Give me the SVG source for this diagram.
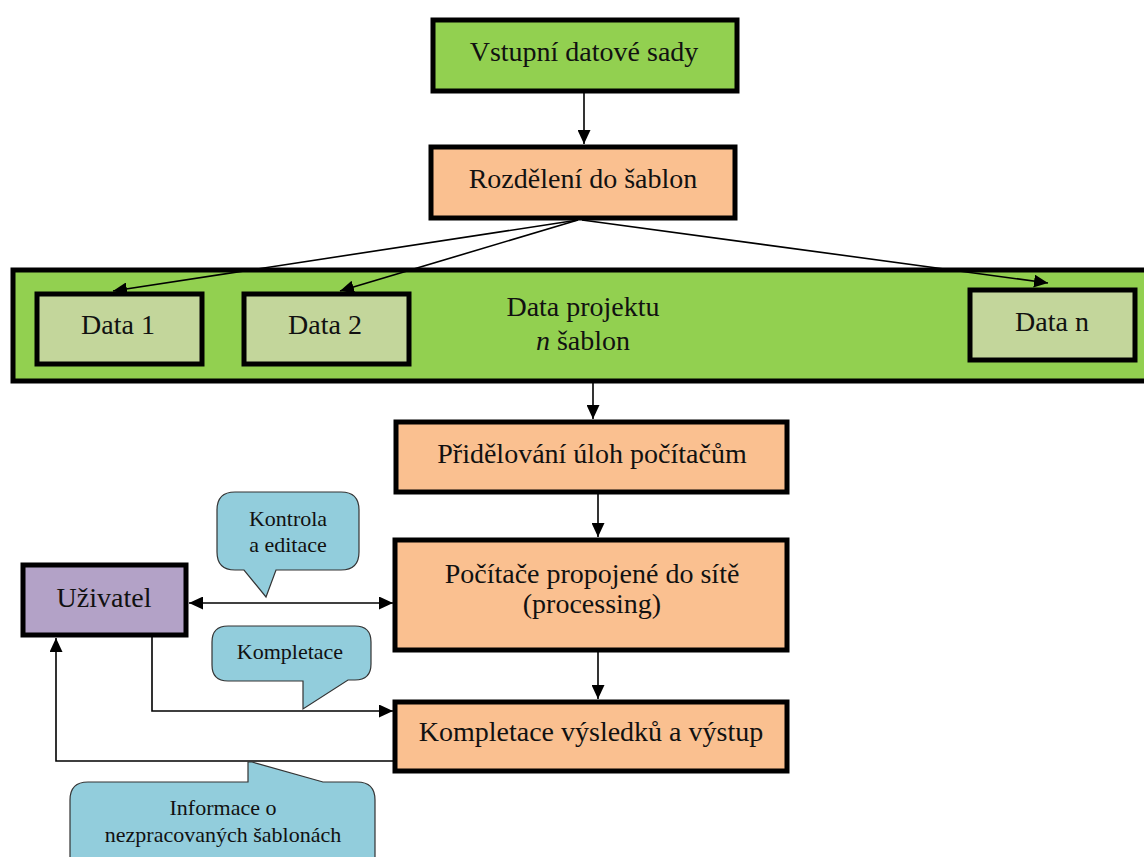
<svg xmlns="http://www.w3.org/2000/svg" width="1144" height="857" viewBox="0 0 1144 857">
<style>
.t{font-family:"Liberation Serif","Times New Roman",serif;font-size:28px;fill:#111;text-anchor:middle}
.s{font-family:"Liberation Serif","Times New Roman",serif;font-size:22px;fill:#111;text-anchor:middle}
.box{stroke:#000;stroke-width:5}
.green{fill:#92D050}
.orange{fill:#FAC090}
.lgreen{fill:#C3D69B}
.purple{fill:#B3A2C7}
.call{fill:#92CDDC;stroke:#333;stroke-width:1.2}
.ln{fill:none;stroke:#000;stroke-width:1.6}
</style>
<defs>
<marker id="ah" viewBox="0 0 14 13" refX="14" refY="6.5" markerWidth="14" markerHeight="13" orient="auto-start-reverse" markerUnits="userSpaceOnUse">
<path d="M0,0 L14,6.5 L0,13 z" fill="#000"/>
</marker>
</defs>

<g id="n-vstup">
<rect class="box green" x="433" y="20" width="304" height="71"/>
<text class="t" x="584" y="61">Vstupní datové sady</text>
</g>
<g id="n-rozdeleni">
<rect class="box orange" x="431" y="147" width="304" height="71"/>
<text class="t" x="583" y="188">Rozdělení do šablon</text>
</g>
<g id="n-projekt">
<rect class="box green" x="13" y="270" width="1140" height="111"/>
<text class="t" x="583" y="316">Data projektu</text>
<text class="t" x="583" y="350"><tspan font-style="italic">n</tspan> šablon</text>
</g>
<g id="n-data1">
<rect class="box lgreen" x="37" y="294" width="165" height="70"/>
<text class="t" x="118" y="334">Data 1</text>
</g>
<g id="n-data2">
<rect class="box lgreen" x="244" y="294" width="165" height="70"/>
<text class="t" x="325" y="334">Data 2</text>
</g>
<g id="n-datan">
<rect class="box lgreen" x="970" y="290" width="165" height="70"/>
<text class="t" x="1052" y="331">Data n</text>
</g>
<g id="n-pridelovani">
<rect class="box orange" x="396" y="422" width="391" height="70"/>
<text class="t" x="592" y="463">Přidělování úloh počítačům</text>
</g>
<g id="n-pocitace">
<rect class="box orange" x="395" y="540" width="392" height="110"/>
<text class="t" x="592" y="583">Počítače propojené do sítě</text>
<text class="t" x="592" y="613">(processing)</text>
</g>
<g id="n-kompletace">
<rect class="box orange" x="395" y="702" width="392" height="69"/>
<text class="t" x="591" y="741">Kompletace výsledků a výstup</text>
</g>
<g id="n-uzivatel">
<rect class="box purple" x="23" y="565" width="163" height="70"/>
<text class="t" x="104" y="607">Uživatel</text>
</g>

<g id="connectors">
<line class="ln" x1="584" y1="93" x2="584" y2="144" marker-end="url(#ah)"/>
<line class="ln" x1="578" y1="220" x2="113" y2="291" marker-end="url(#ah)"/>
<line class="ln" x1="578" y1="220" x2="340" y2="291" marker-end="url(#ah)"/>
<line class="ln" x1="582" y1="220" x2="1048" y2="283" marker-end="url(#ah)"/>
<line class="ln" x1="593" y1="383" x2="593" y2="419" marker-end="url(#ah)"/>
<line class="ln" x1="598" y1="494" x2="598" y2="537" marker-end="url(#ah)"/>
<line class="ln" x1="598" y1="652" x2="598" y2="699" marker-end="url(#ah)"/>
<line class="ln" x1="189" y1="603" x2="393" y2="603" marker-start="url(#ah)" marker-end="url(#ah)"/>
<polyline class="ln" points="152,637 152,711 393,711" marker-end="url(#ah)"/>
<polyline class="ln" points="393,761 56,761 56,638" marker-end="url(#ah)"/>
</g>

<g id="c-kontrola">
<path class="call" d="M235,492 H341 Q359,492 359,510 V552 Q359,570 341,570 H276 L266,597 L244,570 H235 Q217,570 217,552 V510 Q217,492 235,492 Z"/>
<text class="s" x="288" y="526">Kontrola</text>
<text class="s" x="288" y="552">a editace</text>
</g>
<g id="c-kompletace">
<path class="call" d="M228,626 H355 Q371,626 371,642 V664 Q371,680 355,680 H348 L303,709 V681 H228 Q212,681 212,665 V642 Q212,626 228,626 Z"/>
<text class="s" x="290" y="659">Kompletace</text>
</g>
<g id="c-informace">
<path class="call" d="M88,782 H248 V762 H252 L323,782 H357 Q375,782 375,800 V870 H70 V800 Q70,782 88,782 Z"/>
<text class="s" x="223" y="815">Informace o</text>
<text class="s" x="223" y="842">nezpracovaných šablonách</text>
</g>
</svg>
